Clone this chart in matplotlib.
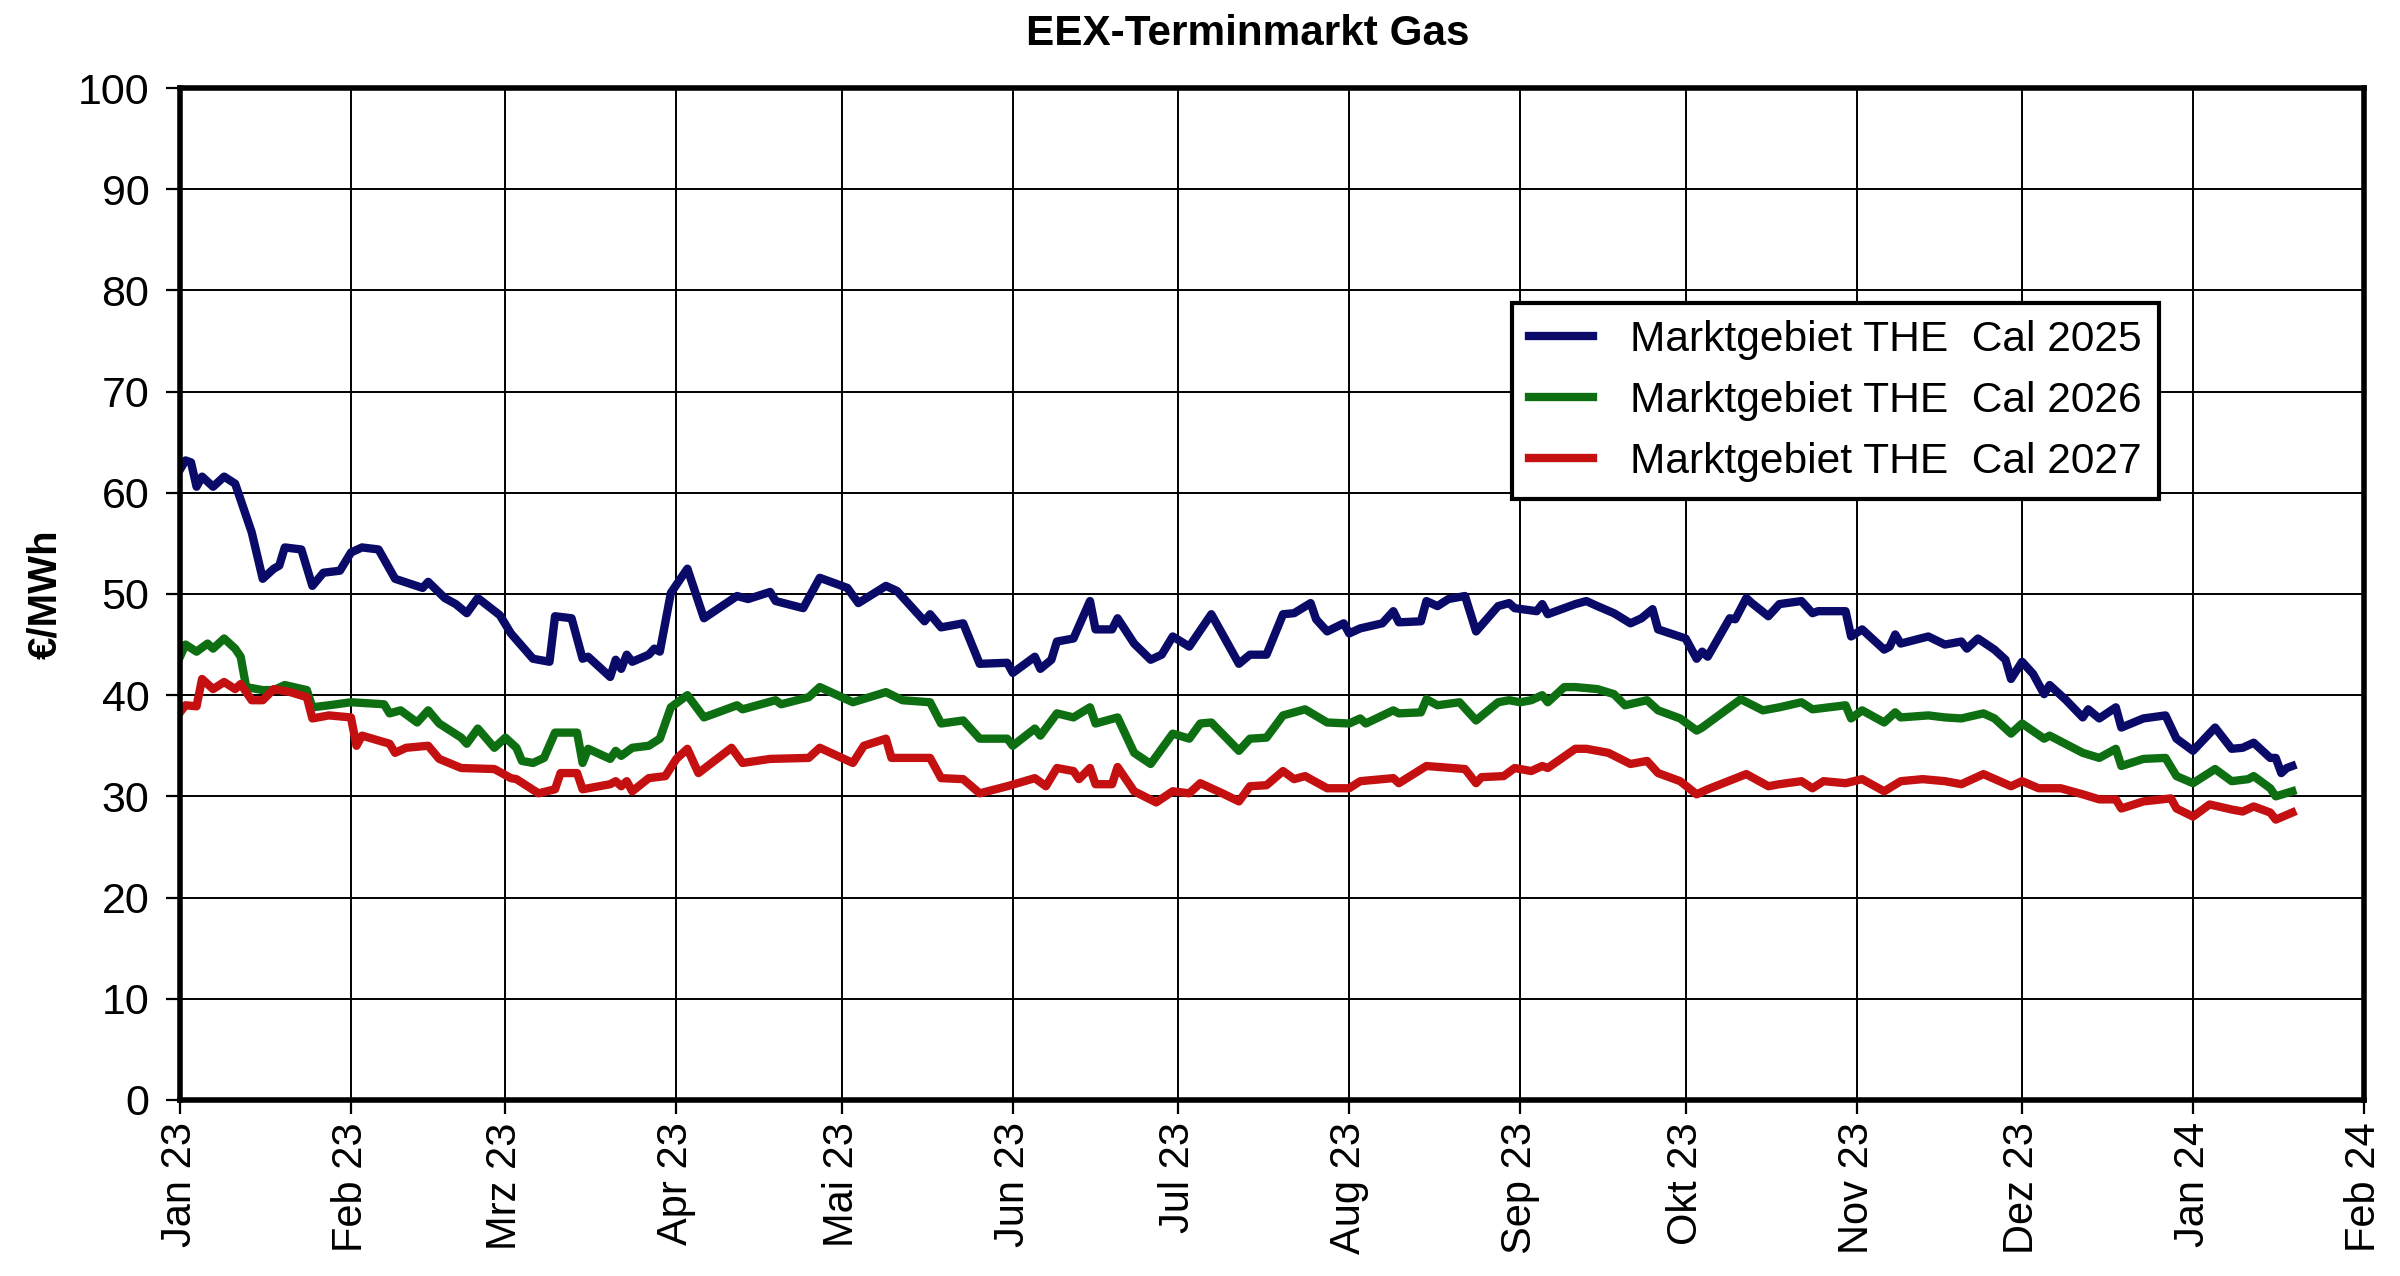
import numpy as np
import pandas as pd
import matplotlib
matplotlib.use("Agg")
import matplotlib.pyplot as plt

plt.rcParams['font.family'] = ['Liberation Sans', 'DejaVu Sans']

# days since 2023-01-01, values in EUR/MWh
days_25 = [0, 1, 2, 3, 4, 6, 8, 10, 13, 15, 17, 18, 19, 22, 24, 26, 29, 31, 33, 36, 39, 44, 45, 48, 50, 52, 54, 58,
           60, 64, 67, 68, 71, 73, 74, 78, 79, 80, 81, 82, 85, 86, 87, 89, 92, 95, 101, 103, 107, 108, 113, 116, 121,
           123, 128, 130, 135, 136, 138, 142, 145, 150, 151, 155, 156, 158, 159, 162, 165, 166, 169, 170, 173, 176,
           178, 180, 183, 187, 192, 194, 197, 200, 202, 205, 206, 208, 211, 212, 214, 218, 220, 221, 225, 226, 228,
           230, 233, 235, 239, 241, 242, 246, 247, 248, 253, 255, 257, 260, 263, 265, 267, 268, 273, 275, 276, 277,
           281, 282, 284, 285, 288, 290, 294, 296, 297, 302, 303, 305, 309, 310, 311, 312, 317, 320, 323, 324, 326,
           329, 331, 332, 334, 336, 338, 339, 342, 345, 346, 348, 351, 352, 356, 360, 362, 365, 369, 372, 374, 376,
           379, 380, 381, 382, 383]
cal_2025 = [62.3, 63.2, 63.0, 60.6, 61.6, 60.6, 61.6, 60.9, 56.1, 51.5, 52.5, 52.8, 54.6, 54.4, 50.8, 52.1, 52.3, 54.1,
            54.6, 54.4, 51.5, 50.6, 51.2, 49.6, 49.0, 48.1, 49.6, 47.9, 46.1, 43.6, 43.3, 47.8, 47.6, 43.6, 43.8, 41.8,
            43.5, 42.6, 44.0, 43.3, 44.0, 44.6, 44.3, 50.1, 52.5, 47.6, 49.8, 49.5, 50.2, 49.3, 48.6, 51.6, 50.6, 49.1,
            50.8, 50.3, 47.3, 48.0, 46.7, 47.1, 43.1, 43.2, 42.2, 43.8, 42.6, 43.5, 45.3, 45.6, 49.3, 46.5, 46.5, 47.6,
            45.1, 43.5, 44.0, 45.8, 44.8, 48.0, 43.1, 44.0, 44.0, 48.0, 48.1, 49.1, 47.5, 46.3, 47.1, 46.1, 46.6, 47.1,
            48.3, 47.2, 47.3, 49.3, 48.8, 49.5, 49.8, 46.3, 48.8, 49.1, 48.6, 48.3, 49.0, 48.0, 49.0, 49.3, 48.8, 48.1,
            47.1, 47.6, 48.5, 46.5, 45.6, 43.6, 44.3, 43.8, 47.6, 47.5, 49.6, 49.1, 47.8, 49.0, 49.3, 48.1, 48.3, 48.3,
            45.8, 46.5, 44.5, 44.8, 46.0, 45.1, 45.8, 45.0, 45.3, 44.6, 45.6, 44.5, 43.5, 41.6, 43.3, 42.1, 40.1, 41.0,
            39.5, 37.8, 38.6, 37.7, 38.8, 36.8, 37.7, 38.0, 35.7, 34.5, 36.8, 34.7, 34.8, 35.3, 33.8, 33.8, 32.3, 32.8,
            33.0]

days_26 = [0, 1, 3, 5, 6, 8, 10, 11, 12, 15, 17, 19, 23, 24, 27, 31, 37, 38, 40, 43, 45, 47, 51, 52, 54, 57, 59, 61,
           62, 64, 66, 68, 72, 73, 74, 78, 79, 80, 82, 85, 87, 89, 92, 95, 101, 102, 108, 109, 114, 116, 118, 122, 128,
           131, 136, 138, 142, 145, 150, 151, 155, 156, 159, 162, 165, 166, 170, 173, 176, 180, 183, 185, 187, 192,
           194, 197, 200, 204, 208, 212, 214, 215, 220, 221, 225, 226, 228, 232, 235, 239, 241, 243, 245, 247, 248,
           251, 253, 257, 260, 262, 266, 268, 272, 275, 276, 281, 283, 287, 290, 294, 296, 302, 303, 305, 309, 311,
           312, 317, 320, 323, 327, 329, 332, 334, 338, 339, 345, 348, 351, 352, 356, 360, 362, 365, 369, 372, 375,
           376, 379, 380, 383]
cal_2026 = [43.8, 45.0, 44.3, 45.1, 44.6, 45.6, 44.6, 43.8, 40.8, 40.5, 40.5, 41.0, 40.5, 38.8, 39.0, 39.3, 39.1, 38.2,
            38.5, 37.3, 38.5, 37.2, 35.8, 35.2, 36.7, 34.8, 35.8, 34.8, 33.5, 33.3, 33.8, 36.3, 36.3, 33.3, 34.7, 33.7,
            34.5, 34.0, 34.8, 35.0, 35.7, 38.8, 40.0, 37.8, 39.0, 38.6, 39.5, 39.1, 39.8, 40.8, 40.3, 39.3, 40.3, 39.5,
            39.3, 37.2, 37.5, 35.7, 35.7, 35.0, 36.7, 36.0, 38.2, 37.8, 38.8, 37.2, 37.8, 34.3, 33.2, 36.2, 35.7, 37.2,
            37.3, 34.5, 35.7, 35.8, 38.0, 38.6, 37.3, 37.2, 37.7, 37.2, 38.5, 38.2, 38.3, 39.6, 39.0, 39.3, 37.5, 39.3,
            39.5, 39.3, 39.5, 40.0, 39.3, 40.8, 40.8, 40.6, 40.1, 39.0, 39.5, 38.5, 37.7, 36.5, 36.8, 38.8, 39.6, 38.5,
            38.8, 39.3, 38.6, 39.0, 37.7, 38.5, 37.3, 38.3, 37.8, 38.0, 37.8, 37.7, 38.2, 37.7, 36.2, 37.2, 35.7, 36.0,
            34.3, 33.8, 34.7, 33.0, 33.7, 33.8, 32.0, 31.3, 32.7, 31.5, 31.7, 32.0, 30.8, 30.0, 30.5]

days_27 = [0, 1, 3, 4, 6, 8, 10, 11, 13, 15, 17, 20, 23, 24, 27, 31, 32, 33, 38, 39, 41, 45, 47, 51, 57, 60, 61, 65,
           68, 69, 72, 73, 78, 79, 80, 81, 82, 85, 88, 90, 92, 94, 100, 102, 107, 114, 116, 122, 124, 128, 129, 136,
           138, 142, 145, 150, 155, 157, 159, 162, 163, 165, 166, 169, 170, 173, 177, 180, 183, 185, 189, 192, 194,
           197, 200, 202, 204, 208, 212, 214, 220, 221, 226, 233, 235, 236, 240, 242, 245, 247, 248, 253, 255, 259,
           263, 266, 268, 272, 275, 277, 284, 288, 290, 294, 296, 298, 302, 305, 309, 312, 316, 320, 323, 327, 332,
           334, 337, 341, 345, 348, 351, 352, 356, 361, 362, 365, 368, 372, 374, 376, 379, 380, 383]
cal_2027 = [38.3, 39.0, 38.9, 41.6, 40.6, 41.3, 40.6, 41.1, 39.5, 39.5, 40.6, 40.3, 39.8, 37.7, 38.0, 37.8, 35.0, 36.0,
            35.2, 34.3, 34.8, 35.0, 33.7, 32.8, 32.7, 31.8, 31.7, 30.3, 30.7, 32.3, 32.3, 30.7, 31.2, 31.5, 31.0, 31.5,
            30.5, 31.8, 32.0, 33.7, 34.7, 32.3, 34.8, 33.3, 33.7, 33.8, 34.8, 33.3, 35.0, 35.7, 33.8, 33.8, 31.8, 31.7,
            30.3, 31.0, 31.8, 31.0, 32.8, 32.5, 31.7, 32.8, 31.2, 31.2, 32.9, 30.5, 29.4, 30.5, 30.3, 31.3, 30.3, 29.5,
            31.0, 31.1, 32.5, 31.7, 32.0, 30.8, 30.8, 31.5, 31.8, 31.3, 33.0, 32.7, 31.3, 31.9, 32.0, 32.8, 32.5, 33.0,
            32.8, 34.7, 34.7, 34.3, 33.2, 33.5, 32.3, 31.5, 30.2, 30.7, 32.2, 31.0, 31.2, 31.5, 30.8, 31.5, 31.3, 31.7,
            30.5, 31.5, 31.7, 31.5, 31.2, 32.2, 31.0, 31.5, 30.8, 30.8, 30.2, 29.7, 29.7, 28.8, 29.5, 29.8, 28.8, 28.0,
            29.2, 28.7, 28.5, 29.0, 28.4, 27.7, 28.4]

labels = ["Marktgebiet THE  Cal 2025", "Marktgebiet THE  Cal 2026", "Marktgebiet THE  Cal 2027"]
colors = ["#0a0a68", "#0e6e12", "#c41010"]

month_names = ["Jan", "Feb", "Mrz", "Apr", "Mai", "Jun", "Jul", "Aug", "Sep", "Okt", "Nov", "Dez"]

start = pd.Timestamp("2023-01-01")

def to_dates(d):
    return start + pd.to_timedelta(d, unit="D")

fig = plt.figure(figsize=(12, 6.38), dpi=200)
ax = fig.add_axes([0.075, 0.138, 0.91, 0.793])

for d, v, lab, c in zip([days_25, days_26, days_27], [cal_2025, cal_2026, cal_2027], labels, colors):
    ax.plot(to_dates(d), v, color=c, lw=3.0, label=lab, solid_joinstyle="round")

ticks = pd.date_range("2023-01-01", "2024-02-01", freq="MS")
ax.set_xticks(ticks)
ax.set_xticklabels([month_names[t.month - 1] + " " + t.strftime("%y") for t in ticks], rotation=90, fontsize=15)
ax.set_xlim(pd.Timestamp("2023-01-01"), pd.Timestamp("2024-02-01"))

ax.set_ylim(0, 100)
ax.set_yticks(np.arange(0, 101, 10))
ax.tick_params(axis="y", labelsize=15.5, length=5, width=0.8, direction="out", pad=6)
ax.tick_params(axis="x", length=5, width=0.8, direction="out", pad=3)

ax.grid(True, color="black", lw=0.7)
ax.set_axisbelow(True)
for s in ax.spines.values():
    s.set_linewidth(2.0)
    s.set_color("black")

ax.set_ylabel("€/MWh", fontsize=14.5, fontweight="bold", labelpad=5)
fig.text(0.52, 0.973, "EEX-Terminmarkt Gas", fontsize=15.2, fontweight="bold", ha="center", va="center")

leg = ax.legend(loc="upper left", bbox_to_anchor=(0.61, 0.788), fontsize=15.3, frameon=True, fancybox=False,
                edgecolor="black", handlelength=1.5, handletextpad=0.88, labelspacing=0.5, borderpad=0.4,
                borderaxespad=0)
leg.get_frame().set_linewidth(1.5)
leg.get_frame().set_alpha(1)

fig.savefig("out.png", dpi=200)
